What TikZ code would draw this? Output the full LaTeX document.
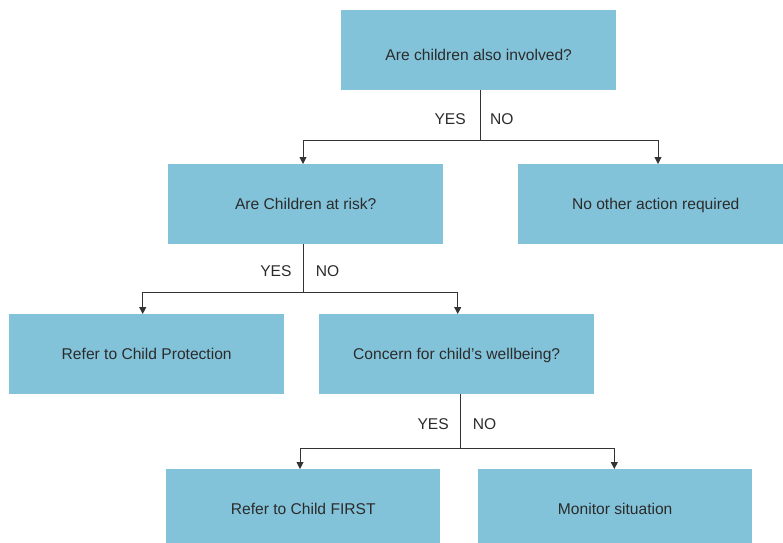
\documentclass[tikz,border=0pt]{standalone}
\usepackage{fontspec}
\setmainfont{Liberation Sans}
\usetikzlibrary{arrows.meta,positioning}
\definecolor{boxblue}{HTML}{83C3DA}
\definecolor{txt}{HTML}{2B2B2B}
\definecolor{ln}{HTML}{333333}
\begin{document}
\begin{tikzpicture}[x=1pt,y=-1pt,
  box/.style={fill=boxblue,draw=none,minimum width=275pt,minimum height=80pt,inner sep=0pt,anchor=north west,text=txt,font=\fontsize{15.6}{18}\selectfont,text height=12pt,text depth=2pt},
  conn/.style={draw=ln,line width=0.9pt},
  arr/.style={conn,-{Triangle[length=7pt,width=7pt]}},
  lab/.style={text=txt,font=\fontsize{15.6}{18}\selectfont,inner sep=0pt}]
\useasboundingbox (0,0) rectangle (783,542);
\begin{scope}
\clip (0,0) rectangle (783,542);
\node[box,text height=20pt,text depth=0pt] (q1) at (341,10) {Are children also involved?};
\node[box] (q2) at (168,164) {Are Children at risk?};
\node[box] (n1) at (518,164) {No other action required};
\node[box] (r1) at (9,314) {Refer to Child Protection};
\node[box] (q3) at (319,314) {Concern for child’s wellbeing?};
\node[box,minimum width=274pt] (r2) at (166,469) {Refer to Child FIRST};
\node[box,minimum width=274pt] (r3) at (478,469) {Monitor situation};
\end{scope}
% connector 1
\coordinate (j1) at (480,140.5);
\draw[conn] (q1.south -| j1) -- (j1);
\draw[arr] (j1) -- (303,140.5) -- (q2.north -| 303,0);
\draw[arr] (j1) -- (658,140.5) -- (n1.north -| 658,0);
\node[lab,anchor=east] (y1) at (466,119) {YES};
\node[lab,anchor=west] (no1) at (490,119) {NO};
% connector 2
\coordinate (j2) at (303.3,292.7);
\draw[conn] (q2.south -| j2) -- (j2);
\draw[arr] (j2) -- (142.7,292.7) -- (r1.north -| 142.7,0);
\draw[arr] (j2) -- (457.7,292.7) -- (q3.north -| 457.7,0);
\node[lab,anchor=east] (y2) at (291.7,271.5) {YES};
\node[lab,anchor=west] (no2) at (315.7,271.5) {NO};
% connector 3
\coordinate (j3) at (460.3,448.3);
\draw[conn] (q3.south -| j3) -- (j3);
\draw[arr] (j3) -- (300,448.3) -- (r2.north -| 300,0);
\draw[arr] (j3) -- (614.3,448.3) -- (r3.north -| 614.3,0);
\node[lab,anchor=east] (y3) at (449,423.7) {YES};
\node[lab,anchor=west] (no3) at (472.7,423.7) {NO};
\end{tikzpicture}
\end{document}
